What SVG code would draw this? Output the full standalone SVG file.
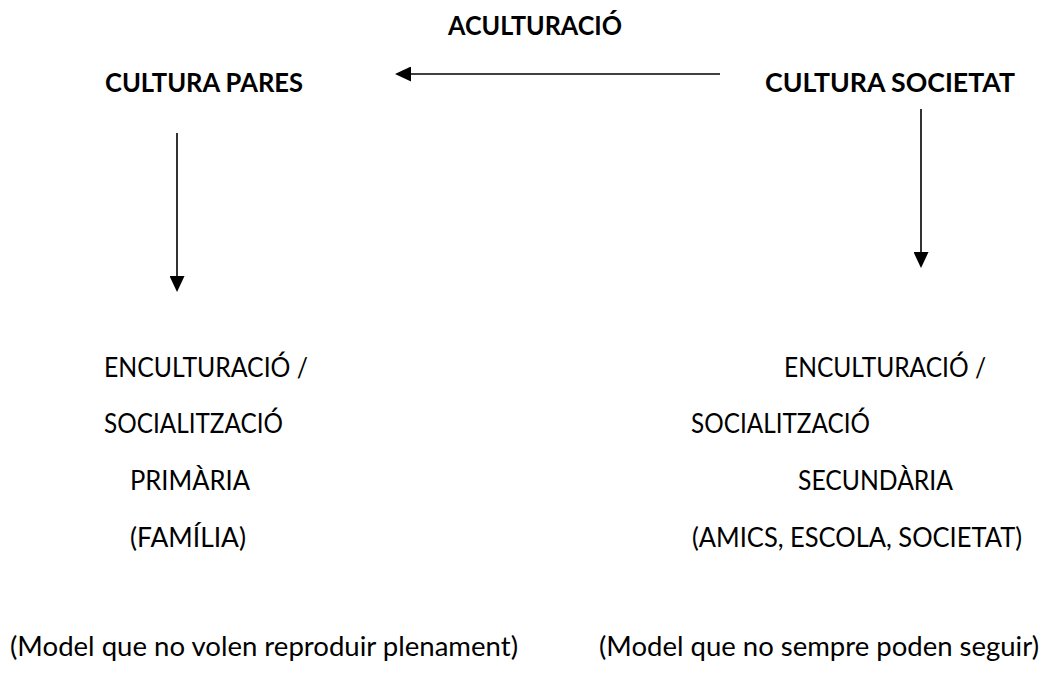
<svg xmlns="http://www.w3.org/2000/svg" width="1043" height="673" viewBox="0 0 1043 673">
  <style>
    text { font-family: Lato, "Open Sans", "Liberation Sans", sans-serif; font-size: 27px; fill: #000; }
    .b { font-weight: bold; }
    .conn { stroke: #000; stroke-width: 1.6; fill: none; marker-end: url(#arrow); }
  </style>
  <defs>
    <marker id="arrow" markerUnits="userSpaceOnUse" viewBox="0 0 16 15" refX="0" refY="7.5" markerWidth="16" markerHeight="15" orient="auto">
      <path d="M0,0 L16,7.5 L0,15 Z" fill="#000"/>
    </marker>
  </defs>
  <rect width="1043" height="673" fill="#fff"/>
  <g id="connectors">
    <line class="conn" x1="720" y1="74" x2="411" y2="74"/>
    <line class="conn" x1="177" y1="133" x2="177" y2="276"/>
    <line class="conn" x1="921" y1="109" x2="921" y2="252"/>
  </g>
  <g id="aculturacio">
    <text class="b" x="448" y="35" textLength="174" lengthAdjust="spacingAndGlyphs">ACULTURACIÓ</text>
  </g>
  <g id="cultura-pares">
    <text class="b" x="105" y="92" textLength="198" lengthAdjust="spacingAndGlyphs">CULTURA PARES</text>
  </g>
  <g id="cultura-societat">
    <text class="b" x="765" y="92" textLength="250" lengthAdjust="spacingAndGlyphs">CULTURA SOCIETAT</text>
  </g>
  <g id="socialitzacio-primaria">
    <text x="104" y="377" textLength="204" lengthAdjust="spacingAndGlyphs">ENCULTURACIÓ /</text>
    <text x="104" y="433" textLength="179" lengthAdjust="spacingAndGlyphs">SOCIALITZACIÓ</text>
    <text x="130" y="490" textLength="120" lengthAdjust="spacingAndGlyphs">PRIMÀRIA</text>
    <text x="130" y="547" textLength="116" lengthAdjust="spacingAndGlyphs">(FAMÍLIA)</text>
  </g>
  <g id="socialitzacio-secundaria">
    <text x="784" y="377" textLength="202" lengthAdjust="spacingAndGlyphs">ENCULTURACIÓ /</text>
    <text x="691" y="433" textLength="179" lengthAdjust="spacingAndGlyphs">SOCIALITZACIÓ</text>
    <text x="798" y="490" textLength="155" lengthAdjust="spacingAndGlyphs">SECUNDÀRIA</text>
    <text x="692" y="547" textLength="330" lengthAdjust="spacingAndGlyphs">(AMICS, ESCOLA, SOCIETAT)</text>
  </g>
  <g id="model-pares">
    <text x="10" y="656" textLength="508" lengthAdjust="spacingAndGlyphs">(Model que no volen reproduir plenament)</text>
  </g>
  <g id="model-societat">
    <text x="599" y="656" textLength="440" lengthAdjust="spacingAndGlyphs">(Model que no sempre poden seguir)</text>
  </g>
</svg>
